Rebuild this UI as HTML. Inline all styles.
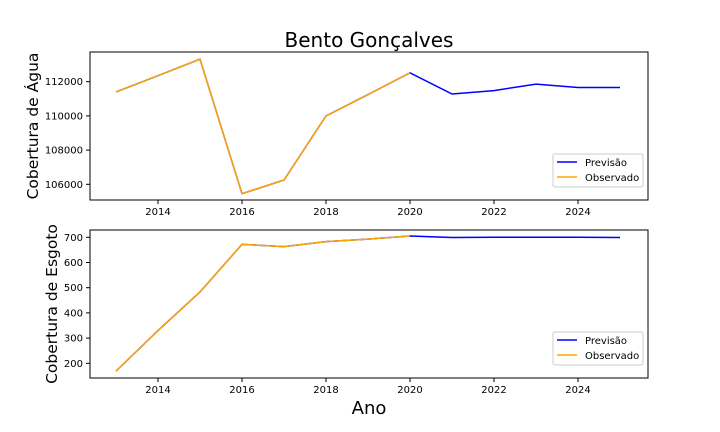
<!DOCTYPE html>
<html><head><meta charset="utf-8"><style>
body{margin:0;background:#fff;}
svg{display:block;font-family:"DejaVu Sans","Liberation Sans",sans-serif;}
</style></head><body>
<svg id="c" width="720" height="432"></svg>
<script>
const years=[2013,2014,2015,2016,2017,2018,2019,2020,2021,2022,2023,2024,2025];
const aguaPrev=[111400,112350,113320,105450,106250,110000,111250,112520,111280,111480,111860,111660,111660];
const aguaObs=[111400,112350,113320,105450,106250,110000,111250,112520];
const esgPrev=[169,330,483,672,663,683,693,705,699,700,700,700,699];
const esgObs=[169,330,483,672,663,683,693,705];
const xTicks=[2014,2016,2018,2020,2022,2024];
const aguaTicks=[106000,108000,110000,112000];
const esgTicks=[200,300,400,500,600,700];
const NS="http://www.w3.org/2000/svg";
const svg=document.getElementById('c');
function mk(t,a,p){const e=document.createElementNS(NS,t);for(const k in a)e.setAttribute(k,a[k]);(p||svg).appendChild(e);return e;}
const xL=90,xR=648;
function xs(y){return 116+(y-2013)*42;}
function panel(name,top,bot,yLo,yHi,pLo,pHi,yt,prev,obs,ylabel,ylx){
  const g=mk('g',{});
  
  
  const ys=v=>pLo+(v-yLo)*(pHi-pLo)/(yHi-yLo);
  mk('rect',{x:xL,y:top,width:xR-xL,height:bot-top,fill:'none',stroke:'#000','stroke-width':1},g);
  xTicks.forEach(t=>{const x=xs(t);mk('line',{x1:x,x2:x,y1:bot,y2:bot+4,stroke:'#000'},g);
    const tx=mk('text',{x:x,y:bot+15,'font-size':10,'text-anchor':'middle',fill:'#000'},g);tx.textContent=t;
    });
  yt.forEach(t=>{const y=ys(t);mk('line',{x1:xL-4,x2:xL,y1:y,y2:y,stroke:'#000'},g);
    const tx=mk('text',{x:xL-7,y:y+3.5,'font-size':10,'text-anchor':'end',fill:'#000'},g);tx.textContent=t;
    });
  const lp=mk('polyline',{points:prev.map((v,i)=>xs(years[i])+','+ys(v)).join(' '),fill:'none',stroke:'#0000ff','stroke-width':1.5},g);
  
  const lo=mk('polyline',{points:obs.map((v,i)=>xs(years[i])+','+ys(v)).join(' '),fill:'none',stroke:'#ffa500','stroke-width':1.5},g);
  
  const yl=mk('text',{x:ylx,y:(top+bot)/2,'font-size':15.5,'text-anchor':'middle',fill:'#000',transform:`rotate(-90 ${ylx} ${(top+bot)/2})`},g);
  yl.textContent=ylabel;
  const lg=mk('g',{},g);
  const ly=bot-46;
  mk('rect',{x:553,y:ly,width:90,height:33,fill:'#fff',stroke:'#ccc',rx:2},lg);
  mk('line',{x1:557,x2:577,y1:ly+8,y2:ly+8,stroke:'#0000ff','stroke-width':1.5},lg);
  mk('line',{x1:557,x2:577,y1:ly+23,y2:ly+23,stroke:'#ffa500','stroke-width':1.5},lg);
  const t1=mk('text',{x:585,y:ly+12,'font-size':10,fill:'#000'},lg);t1.textContent='Previsão';
  const t2=mk('text',{x:585,y:ly+27,'font-size':10,fill:'#000'},lg);t2.textContent='Observado';
}
panel('agua',52,200,106000,112000,184.3,81.7,aguaTicks,aguaPrev,aguaObs,'Cobertura de Água',38);
panel('esgoto',230,378,200,700,363.3,237.3,esgTicks,esgPrev,esgObs,'Cobertura de Esgoto',57);
const ti=mk('text',{x:369,y:47,'font-size':20,'text-anchor':'middle',fill:'#000'});ti.textContent='Bento Gonçalves';

const xl=mk('text',{x:369,y:414,'font-size':18,'text-anchor':'middle',fill:'#000'});xl.textContent='Ano';

</script>
</body></html>
